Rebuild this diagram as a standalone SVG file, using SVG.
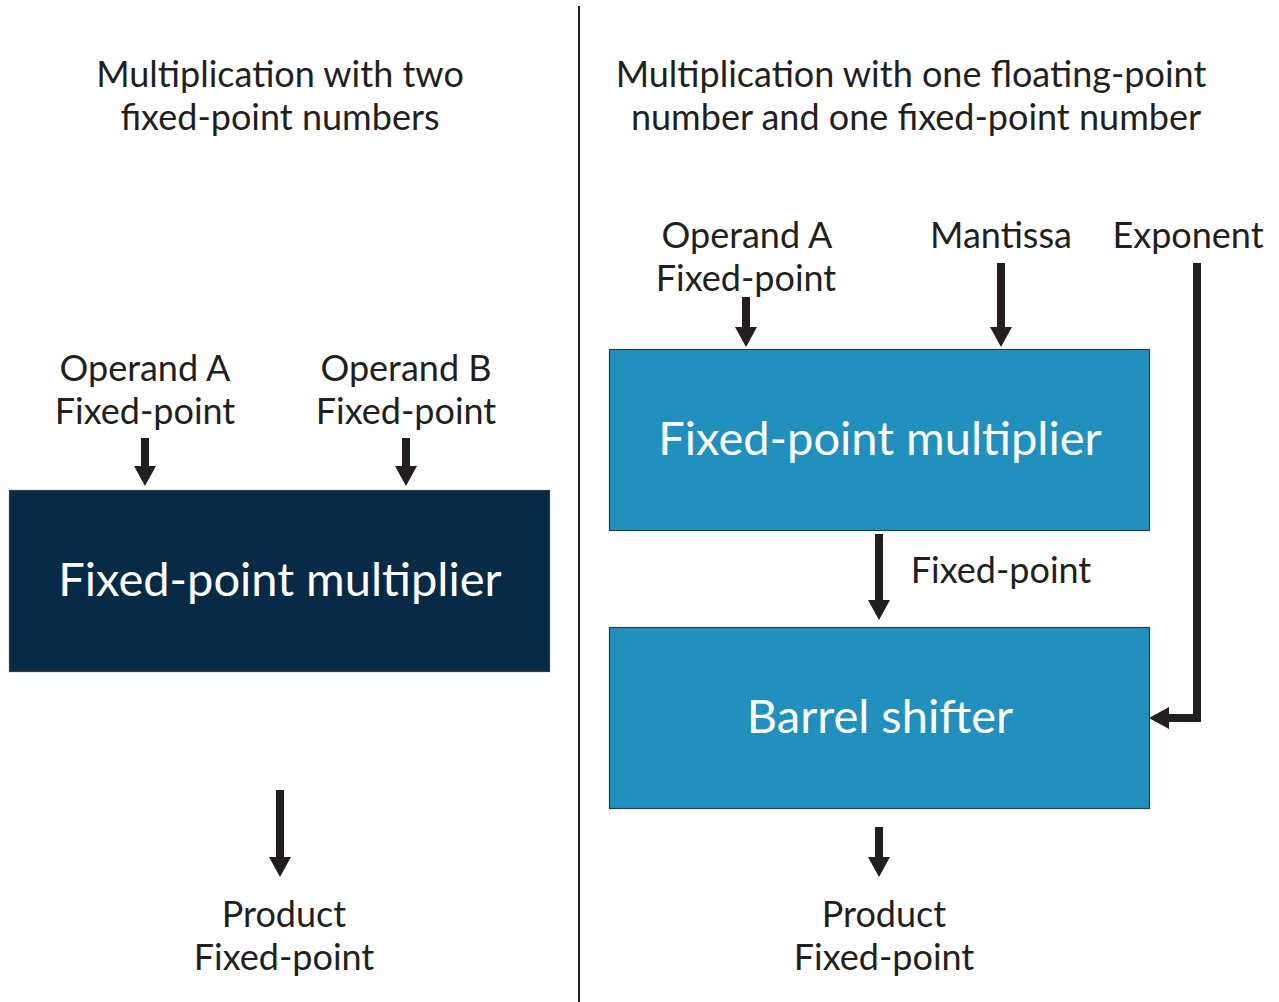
<svg xmlns="http://www.w3.org/2000/svg" width="1279" height="1002" viewBox="0 0 1279 1002">
  <style>
    .lbl { font-family: Lato, "Noto Sans", sans-serif; font-size: 36px; fill: #231f20; text-anchor: middle; }
    .box-txt { font-family: Lato, "Noto Sans", sans-serif; font-size: 47px; fill: #ffffff; text-anchor: middle; }
    .dark { fill: #072a47; stroke: #3a3a3a; stroke-width: 1.2; }
    .blue { fill: #2190be; stroke: #2a3a48; stroke-width: 1.2; }
    .wire { fill: none; stroke: #231f20; stroke-width: 8; stroke-linejoin: miter; marker-end: url(#head); }
  </style>
  <defs>
    <marker id="head" markerUnits="userSpaceOnUse" markerWidth="20" markerHeight="22" viewBox="0 0 20 22" refX="0" refY="11" orient="auto">
      <path d="M0,0 L20,11 L0,22 Z" fill="#231f20"/>
    </marker>
  </defs>
  <rect width="1279" height="1002" fill="#ffffff"/>

  <!-- divider between the two schemes -->
  <line x1="579" y1="6" x2="579" y2="1002" stroke="#231f20" stroke-width="2"/>

  <!-- headings -->
  <g id="title-left">
    <text class="lbl" x="280" y="87">Multiplication with two</text>
    <text class="lbl" x="280" y="130">fixed-point numbers</text>
  </g>
  <g id="title-right">
    <text class="lbl" x="911" y="87">Multiplication with one floating-point</text>
    <text class="lbl" x="916" y="130">number and one fixed-point number</text>
  </g>

  <!-- left scheme: inputs -->
  <g id="in-a-left">
    <text class="lbl" x="145" y="381">Operand A</text>
    <text class="lbl" x="145" y="424">Fixed-point</text>
  </g>
  <g id="in-b-left">
    <text class="lbl" x="406" y="381">Operand B</text>
    <text class="lbl" x="406" y="424">Fixed-point</text>
  </g>

  <g id="mult-left">
    <rect class="dark" x="9.5" y="490.5" width="540" height="181"/>
    <text class="box-txt" x="280" y="596">Fixed-point multiplier</text>
  </g>

  <g id="out-left">
    <text class="lbl" x="284" y="927">Product</text>
    <text class="lbl" x="284" y="970">Fixed-point</text>
  </g>

  <!-- right scheme: inputs -->
  <g id="in-a-right">
    <text class="lbl" x="747" y="248">Operand A</text>
    <text class="lbl" x="746" y="291">Fixed-point</text>
  </g>
  <g id="in-mantissa">
    <text class="lbl" x="1001" y="248">Mantissa</text>
  </g>
  <g id="in-exponent">
    <text class="lbl" x="1188" y="248">Exponent</text>
  </g>

  <g id="mult-right">
    <rect class="blue" x="609.5" y="349.5" width="540" height="181"/>
    <text class="box-txt" x="880" y="455">Fixed-point multiplier</text>
  </g>

  <g id="mid-label">
    <text class="lbl" x="1001" y="583">Fixed-point</text>
  </g>

  <g id="shifter">
    <rect class="blue" x="609.5" y="627.5" width="540" height="181"/>
    <text class="box-txt" x="880" y="733">Barrel shifter</text>
  </g>

  <g id="out-right">
    <text class="lbl" x="884" y="927">Product</text>
    <text class="lbl" x="884" y="970">Fixed-point</text>
  </g>

  <!-- connectors -->
  <g id="connectors">
    <line class="wire" x1="145" y1="438" x2="145" y2="466"/>
    <line class="wire" x1="406" y1="438" x2="406" y2="466"/>
    <line class="wire" x1="280" y1="790" x2="280" y2="857"/>
    <line class="wire" x1="746" y1="297" x2="746" y2="327"/>
    <line class="wire" x1="1001" y1="263" x2="1001" y2="327"/>
    <line class="wire" x1="879" y1="534" x2="879" y2="600"/>
    <polyline class="wire" points="1197,263 1197,718 1169,718"/>
    <line class="wire" x1="879" y1="827" x2="879" y2="857"/>
  </g>
</svg>
